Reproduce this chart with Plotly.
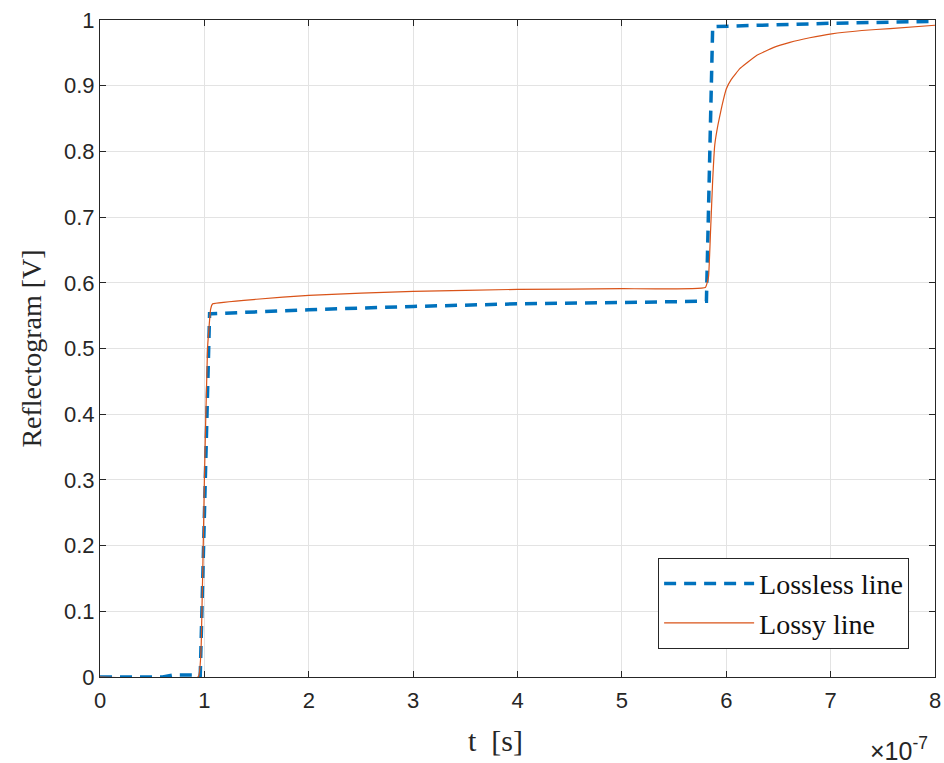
import plotly.graph_objects as go

# time in units of 1e-7 s
t_lossless = [0.0, 0.6, 0.7, 0.93, 0.96, 1.05, 1.07, 2.0, 3.0, 4.0, 5.0, 5.81, 5.87, 6.5, 7.0, 8.0]
v_lossless = [0.0, 0.0, 0.003, 0.003, 0.0, 0.553, 0.553, 0.559, 0.564, 0.568, 0.570, 0.572, 0.990, 0.993, 0.995, 0.998]

t_lossy = [0.0, 0.94, 0.97, 1.0, 1.03, 1.06, 1.08, 1.5, 2.0, 3.0, 4.0, 5.0, 5.80, 5.83, 5.85, 5.87,
           5.89, 5.92, 5.95, 5.97, 6.0, 6.05, 6.13, 6.2, 6.29, 6.45, 6.61, 6.8, 7.01, 7.3, 7.57, 8.0]
v_lossy = [0.0, 0.0, 0.05, 0.30, 0.50, 0.56, 0.568, 0.575, 0.581, 0.587, 0.590, 0.591, 0.593, 0.609, 0.680, 0.756,
           0.810, 0.840, 0.863, 0.877, 0.895, 0.910, 0.926, 0.935, 0.946, 0.958, 0.966, 0.973, 0.979, 0.984, 0.987, 0.992]

x_ticks = [0, 1, 2, 3, 4, 5, 6, 7, 8]
y_ticks = [0, 0.1, 0.2, 0.3, 0.4, 0.5, 0.6, 0.7, 0.8, 0.9, 1]

fig = go.Figure()
fig.add_trace(go.Scatter(x=t_lossless, y=v_lossless, mode="lines", name="Lossless line",
                         line=dict(color="#0072BD", width=3.5, dash="12px,8px")))
fig.add_trace(go.Scatter(x=t_lossy, y=v_lossy, mode="lines", name="Lossy line",
                         line=dict(color="#D95319", width=1.2, shape="spline", smoothing=0.3)))

axis_common = dict(showline=True, linecolor="#262626", linewidth=1, mirror="ticks",
                   ticks="inside", ticklen=6, tickcolor="#262626",
                   showgrid=True, gridcolor="#e3e3e3", gridwidth=1, zeroline=False,
                   tickfont=dict(family="Liberation Sans, Arial", size=22, color="#262626"))

fig.update_xaxes(range=[0, 8], tickvals=x_ticks, ticktext=[str(v) for v in x_ticks],
                 ticklabelstandoff=4, **axis_common)
fig.update_yaxes(range=[0, 1], tickvals=y_ticks, ticktext=[("%g" % v) for v in y_ticks],
                 title=dict(text="Reflectogram [V]", font=dict(family="Liberation Serif, serif", size=28, color="#262626"),
                            standoff=14), **axis_common)

fig.add_annotation(text="t&nbsp;&nbsp;[s]", xref="paper", yref="paper", x=0.474, y=-0.096,
                   xanchor="center", yanchor="middle", showarrow=False,
                   font=dict(family="Liberation Serif, serif", size=30, color="#262626"))

fig.add_annotation(text="×10<sup>-7</sup>", xref="paper", yref="paper", x=0.994, y=-0.11,
                   xanchor="right", yanchor="middle", showarrow=False,
                   font=dict(family="Liberation Sans, Arial", size=25, color="#262626"))

fig.update_layout(
    width=944, height=763,
    margin=dict(l=100, r=9, t=20, b=86, autoexpand=False),
    paper_bgcolor="white", plot_bgcolor="white",
    showlegend=True,
    legend=dict(x=0.969, y=0.043, xanchor="right", yanchor="bottom",
                bgcolor="white", bordercolor="#262626", borderwidth=1,
                font=dict(family="Liberation Serif, serif", size=28, color="#111111"),
                itemwidth=90, tracegroupgap=0),
)

fig.write_html("out.html", config={"displayModeBar": False},
               post_script="document.body.style.margin='0';document.body.style.overflow='hidden';")
